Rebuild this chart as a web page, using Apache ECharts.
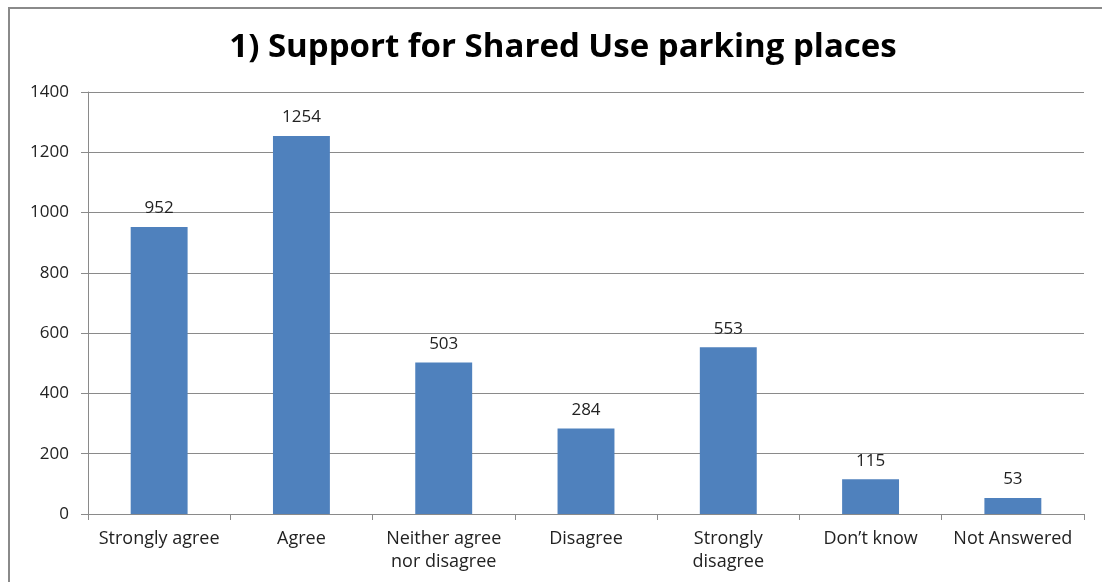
<!DOCTYPE html>
<html>
<head>
<meta charset="utf-8">
<script src="https://cdn.jsdelivr.net/npm/echarts@6/dist/echarts.min.js"></script>
<style>
  html, body { margin: 0; padding: 0; background: #fff; }
  #chart { width: 1102px; height: 582px; }
</style>
</head>
<body>
<div id="chart"></div>
<script>
// Survey responses: support for shared use parking places
const categories = ['Strongly agree', 'Agree', 'Neither agree\nnor disagree', 'Disagree', 'Strongly\ndisagree', 'Don\u2019t know', 'Not Answered'];
const responses = [952, 1254, 503, 284, 553, 115, 53];
const yTicks = [0, 200, 400, 600, 800, 1000, 1200, 1400];

const FONT = '"Open Sans", "Noto Sans", sans-serif';

const chart = echarts.init(document.getElementById('chart'), null, { renderer: 'canvas' });
chart.setOption({
  backgroundColor: '#fff',
  animation: false,
  title: {
    text: '1) Support for Shared Use parking places',
    left: 558,
    textAlign: 'center',
    top: 26,
    textStyle: { fontFamily: FONT, fontSize: 33, fontWeight: 'bold', color: '#000' }
  },
  graphic: [{
    type: 'rect',
    shape: { x: 9, y: 8, width: 1300, height: 800 },
    style: { fill: 'none', stroke: '#8a8a8a', lineWidth: 2 },
    silent: true
  }],
  grid: { left: 88, right: 18, top: 92, bottom: 68, containLabel: false },
  xAxis: {
    type: 'category',
    data: categories,
    axisLine: { lineStyle: { color: '#8a8a8a', width: 1 } },
    axisTick: { show: true, length: 6, alignWithLabel: false, lineStyle: { color: '#8a8a8a' } },
    axisLabel: { fontFamily: FONT, fontSize: 18, color: '#222', margin: 13, lineHeight: 23, interval: 0 }
  },
  yAxis: {
    type: 'value',
    min: yTicks[0],
    max: yTicks[yTicks.length - 1],
    interval: yTicks[1] - yTicks[0],
    axisLine: { show: true, lineStyle: { color: '#8a8a8a', width: 1 } },
    axisTick: { show: true, length: 7, lineStyle: { color: '#8a8a8a' } },
    splitLine: { lineStyle: { color: '#8a8a8a', width: 1 } },
    axisLabel: { fontFamily: FONT, fontSize: 17, color: '#222', margin: 19, formatter: (v) => String(v) }
  },
  series: [{
    type: 'bar',
    data: responses,
    barWidth: '40%',
    itemStyle: { color: '#4F81BD' },
    label: {
      show: true,
      position: 'top',
      distance: 10,
      fontFamily: FONT,
      fontSize: 17,
      color: '#222'
    }
  }]
});
</script>
</body>
</html>
